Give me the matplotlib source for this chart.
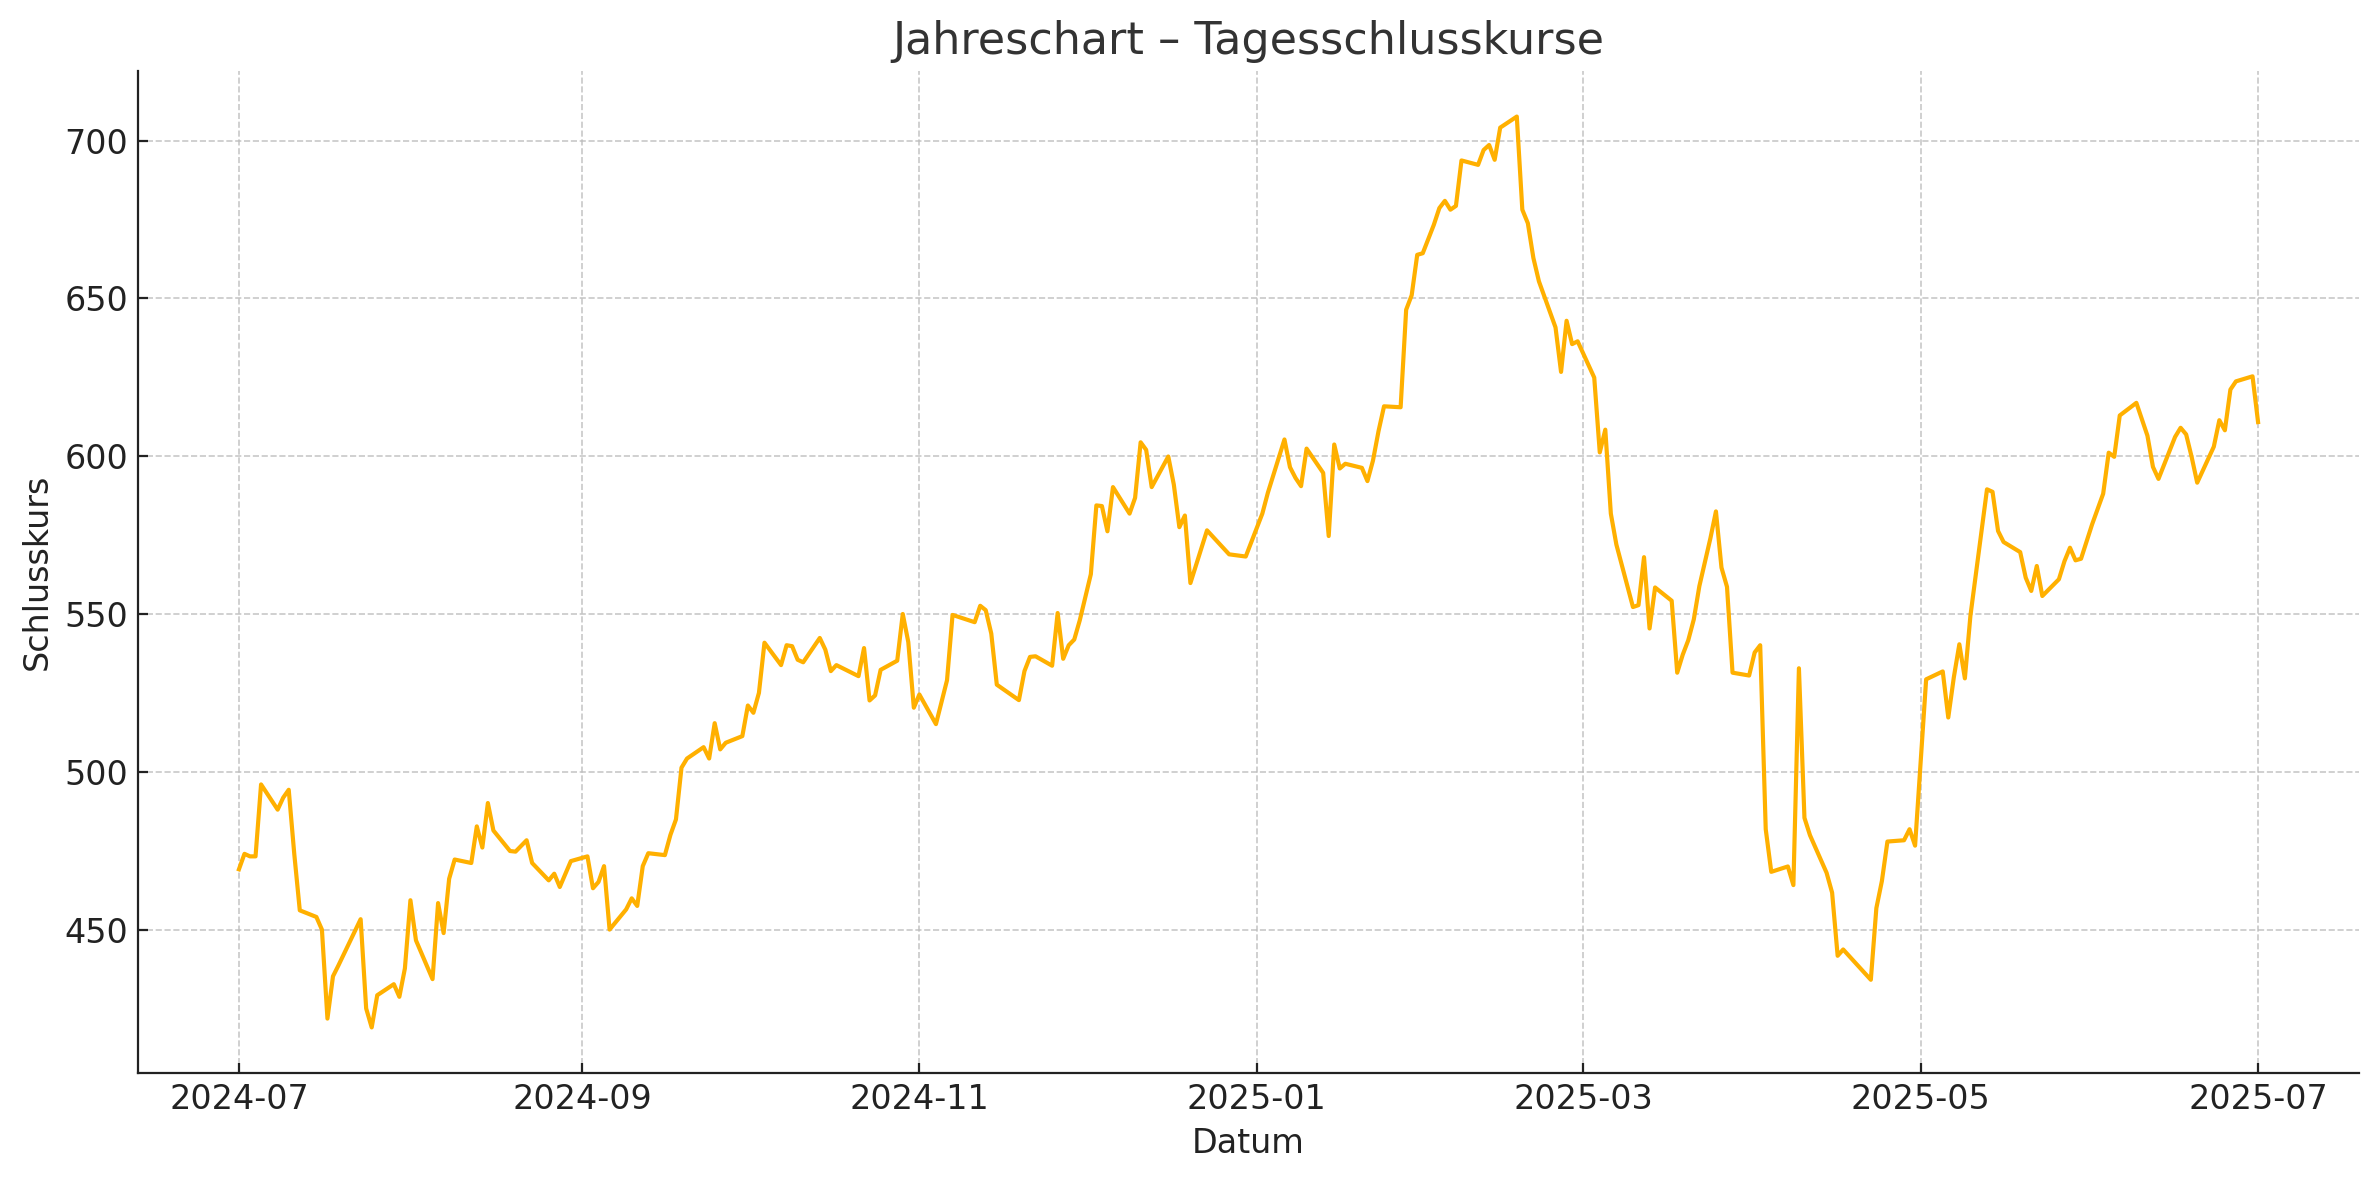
import matplotlib
matplotlib.use("Agg")
import matplotlib.pyplot as plt
import matplotlib.dates as mdates
import pandas as pd

dates = [
    "2024-07-01", "2024-07-02", "2024-07-03", "2024-07-04", "2024-07-05",
    "2024-07-08", "2024-07-09", "2024-07-10", "2024-07-11", "2024-07-12",
    "2024-07-15", "2024-07-16", "2024-07-17", "2024-07-18", "2024-07-19",
    "2024-07-23", "2024-07-24", "2024-07-25", "2024-07-26",
    "2024-07-29", "2024-07-30", "2024-07-31", "2024-08-01", "2024-08-02",
    "2024-08-05", "2024-08-06", "2024-08-07", "2024-08-08", "2024-08-09",
    "2024-08-12", "2024-08-13", "2024-08-14", "2024-08-15", "2024-08-16",
    "2024-08-19", "2024-08-20", "2024-08-22", "2024-08-23",
    "2024-08-26", "2024-08-27", "2024-08-28", "2024-08-30",
    "2024-09-02", "2024-09-03", "2024-09-04", "2024-09-05", "2024-09-06",
    "2024-09-09", "2024-09-10", "2024-09-11", "2024-09-12", "2024-09-13",
    "2024-09-16", "2024-09-17", "2024-09-18", "2024-09-19", "2024-09-20",
    "2024-09-23", "2024-09-24", "2024-09-25", "2024-09-26", "2024-09-27",
    "2024-09-30", "2024-10-01", "2024-10-02", "2024-10-03", "2024-10-04",
    "2024-10-07", "2024-10-08", "2024-10-09", "2024-10-10", "2024-10-11",
    "2024-10-14", "2024-10-15", "2024-10-16", "2024-10-17",
    "2024-10-21", "2024-10-22", "2024-10-23", "2024-10-24", "2024-10-25",
    "2024-10-28", "2024-10-29", "2024-10-30", "2024-10-31", "2024-11-01",
    "2024-11-04", "2024-11-06", "2024-11-07",
    "2024-11-11", "2024-11-12", "2024-11-13", "2024-11-14", "2024-11-15",
    "2024-11-19", "2024-11-20", "2024-11-21", "2024-11-22",
    "2024-11-25", "2024-11-26", "2024-11-27", "2024-11-28", "2024-11-29", "2024-11-30",
    "2024-12-02", "2024-12-03", "2024-12-04", "2024-12-05", "2024-12-06",
    "2024-12-09", "2024-12-10", "2024-12-11", "2024-12-12", "2024-12-13",
    "2024-12-16", "2024-12-17", "2024-12-18", "2024-12-19", "2024-12-20",
    "2024-12-23", "2024-12-27", "2024-12-30",
    "2025-01-02", "2025-01-03",
    "2025-01-06", "2025-01-07", "2025-01-08", "2025-01-09", "2025-01-10",
    "2025-01-13", "2025-01-14", "2025-01-15", "2025-01-16", "2025-01-17",
    "2025-01-20", "2025-01-21", "2025-01-22", "2025-01-23", "2025-01-24",
    "2025-01-27", "2025-01-28", "2025-01-29", "2025-01-30", "2025-01-31",
    "2025-02-02", "2025-02-03", "2025-02-04", "2025-02-05", "2025-02-06", "2025-02-07",
    "2025-02-10", "2025-02-11", "2025-02-12", "2025-02-13", "2025-02-14",
    "2025-02-17", "2025-02-18", "2025-02-19", "2025-02-20", "2025-02-21",
    "2025-02-24", "2025-02-25", "2025-02-26", "2025-02-27", "2025-02-28",
    "2025-03-03", "2025-03-04", "2025-03-05", "2025-03-06", "2025-03-07",
    "2025-03-10", "2025-03-11", "2025-03-12", "2025-03-13", "2025-03-14",
    "2025-03-17", "2025-03-18", "2025-03-19", "2025-03-20", "2025-03-21", "2025-03-22",
    "2025-03-24", "2025-03-25", "2025-03-26", "2025-03-27", "2025-03-28",
    "2025-03-31", "2025-04-01", "2025-04-02", "2025-04-03", "2025-04-04",
    "2025-04-07", "2025-04-08", "2025-04-09", "2025-04-10", "2025-04-11",
    "2025-04-14", "2025-04-15", "2025-04-16", "2025-04-17",
    "2025-04-22", "2025-04-23", "2025-04-24", "2025-04-25",
    "2025-04-28", "2025-04-29", "2025-04-30", "2025-05-02",
    "2025-05-05", "2025-05-06", "2025-05-07", "2025-05-08", "2025-05-09", "2025-05-10",
    "2025-05-12", "2025-05-13", "2025-05-14", "2025-05-15", "2025-05-16",
    "2025-05-19", "2025-05-20", "2025-05-21", "2025-05-22", "2025-05-23",
    "2025-05-26", "2025-05-27", "2025-05-28", "2025-05-29", "2025-05-30",
    "2025-06-01", "2025-06-02", "2025-06-03", "2025-06-04", "2025-06-05", "2025-06-06",
    "2025-06-09", "2025-06-11", "2025-06-12", "2025-06-13",
    "2025-06-16", "2025-06-17", "2025-06-18", "2025-06-19", "2025-06-20",
    "2025-06-23", "2025-06-24", "2025-06-25", "2025-06-26", "2025-06-27",
    "2025-06-30", "2025-07-01",
]

close_prices = [
    469.1, 474.0, 473.2, 473.2, 496.0,
    488.0, 491.8, 494.3, 474.0, 456.1,
    454.0, 450.0, 421.8, 435.2, 438.7,
    453.3, 425.0, 419.0, 429.2,
    432.7, 428.7, 437.7, 459.3, 446.6,
    434.3, 458.4, 448.9, 466.1, 472.2,
    471.1, 482.7, 476.0, 490.1, 481.4,
    474.9, 474.7, 478.3, 471.1,
    465.6, 467.7, 463.5, 471.7,
    473.2, 463.1, 465.1, 470.1, 450.0,
    456.4, 459.9, 457.5, 470.1, 474.2,
    473.6, 480.0, 484.9, 501.3, 504.2,
    507.8, 504.2, 515.4, 507.1, 509.2,
    511.3, 521.0, 518.7, 525.0, 540.9,
    533.8, 540.1, 539.8, 535.5, 534.7,
    542.4, 538.7, 531.9, 533.8,
    530.3, 539.2, 522.6, 524.2, 532.3,
    535.2, 550.0, 541.1, 520.3, 524.5,
    515.1, 529.0, 549.7,
    547.4, 552.6, 551.2, 543.8, 527.6,
    522.7, 531.9, 536.4, 536.6,
    533.6, 550.3, 535.8, 540.1, 541.9, 548.0,
    562.6, 584.4, 584.2, 576.2, 590.2,
    581.8, 586.8, 604.4, 602.0, 590.2,
    599.9, 591.0, 577.5, 581.2, 559.8,
    576.5, 568.9, 568.2,
    581.8, 588.4,
    605.3, 596.5, 593.1, 590.5, 602.4,
    594.7, 574.7, 603.7, 596.1, 597.6,
    596.3, 592.1, 598.6, 607.9, 615.8,
    615.5, 646.4, 651.0, 663.8, 664.3,
    673.3, 678.6, 680.9, 678.1, 679.3, 693.7,
    692.3, 697.0, 698.6, 693.9, 704.1,
    707.6, 678.1, 673.8, 662.8, 655.4,
    640.8, 626.7, 642.9, 635.5, 636.4,
    624.9, 601.2, 608.4, 581.8, 572.0,
    552.2, 552.8, 568.0, 545.4, 558.4,
    554.2, 531.4, 537.1, 541.7, 548.3, 558.8,
    574.0, 582.5, 564.7, 558.6, 531.4,
    530.5, 537.8, 540.1, 481.8, 468.3,
    470.0, 464.1, 532.8, 485.4, 479.9,
    468.0, 461.7, 441.7, 443.7,
    434.1, 456.8, 465.4, 477.9,
    478.3, 481.8, 476.6, 529.3,
    531.8, 517.2, 529.9, 540.4, 529.6, 549.4,
    576.3, 589.5, 588.7, 576.3, 572.8,
    569.6, 561.5, 557.3, 565.2, 555.7,
    561.0, 566.7, 571.0, 567.0, 567.5,
    578.4, 583.3, 588.1, 601.1, 599.8, 612.9,
    616.9, 606.5, 596.6, 592.8,
    606.1, 609.0, 606.9, 599.7, 591.6,
    603.0, 611.4, 608.2, 621.1, 623.7,
    625.3, 610.8,
]

title = "Jahreschart \u2013 Tagesschlusskurse"
x_label = "Datum"
y_label = "Schlusskurs"

x = pd.to_datetime(dates)

fig = plt.figure(figsize=(11.895, 5.9), dpi=200)
ax = fig.add_axes([0.058, 0.0907, 0.9336, 0.8491])

ax.plot(x, close_prices, color="#FFB000", linewidth=1.5)

ax.set_title(title, fontsize=16, color="#333333")
ax.set_xlabel(x_label, fontsize=12, color="#222222")
ax.set_ylabel(y_label, fontsize=12, color="#222222")

ax.xaxis.set_major_locator(mdates.MonthLocator(bymonth=[1, 3, 5, 7, 9, 11]))
ax.xaxis.set_major_formatter(mdates.DateFormatter("%Y-%m"))

ax.tick_params(axis="both", direction="in", labelsize=12, colors="#222222")
ax.grid(True, linestyle="--", linewidth=0.6, color="#bbbbbb", alpha=0.8)
ax.set_axisbelow(True)

for side in ("top", "right"):
    ax.spines[side].set_visible(False)
for side in ("left", "bottom"):
    ax.spines[side].set_color("#222222")

fig.savefig("out.png", dpi=200, facecolor="white")
